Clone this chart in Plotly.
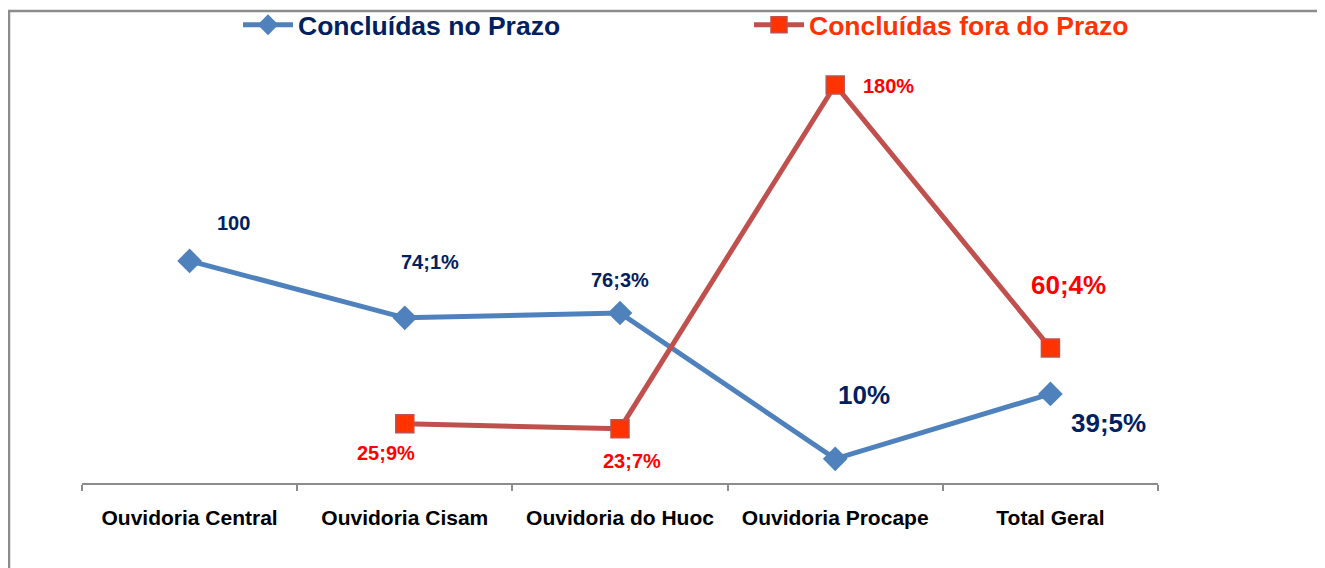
import plotly.graph_objects as go

categories = ["Ouvidoria Central", "Ouvidoria Cisam", "Ouvidoria do Huoc", "Ouvidoria Procape", "Total Geral"]
no_prazo = [100, 74.1, 76.3, 10, 39.5]
fora_prazo = [None, 25.9, 23.7, 180, 60.4]
no_prazo_labels = ["100", "74;1%", "76;3%", "10%", "39;5%"]
fora_prazo_labels = ["", "25;9%", "23;7%", "180%", "60;4%"]

BLUE_LINE = "#4F81BD"
NAVY = "#002060"
RED_LINE = "#C0504D"
RED_MARK = "#FF3300"
RED_TXT = "#FF0000"
FONT = "Liberation Sans, Arial, sans-serif"

fig = go.Figure()
fig.add_trace(go.Scatter(
    x=categories, y=no_prazo, mode="lines+markers",
    name=f"<b><span style='color:{NAVY}'>Concluídas no Prazo</span></b>",
    line=dict(color=BLUE_LINE, width=5),
    marker=dict(symbol="diamond", size=19, color=BLUE_LINE),
))
fig.add_trace(go.Scatter(
    x=categories, y=fora_prazo, mode="lines+markers",
    name=f"<b><span style='color:{RED_MARK}'>Concluídas fora do Prazo</span></b>",
    line=dict(color=RED_LINE, width=5),
    marker=dict(symbol="square", size=18, color=RED_MARK, line=dict(color=RED_LINE, width=1.5)),
))

# label offsets (pixels) and sizes
blue_off = [(44, 38, 20), (25, 56, 20), (0, 33, 20), (29, 64, 26), (58, -29, 26)]
red_off = [(0, 0, 20), (-19, -29, 20), (12, -32, 20), (53, -1, 20), (18, 63, 26)]

for c, v, t, (dx, dy, s) in zip(categories, no_prazo, no_prazo_labels, blue_off):
    fig.add_annotation(x=c, y=v, text=f"<b>{t}</b>", showarrow=False, xshift=dx, yshift=dy,
                       font=dict(color=NAVY, size=s, family=FONT))
for c, v, t, (dx, dy, s) in zip(categories, fora_prazo, fora_prazo_labels, red_off):
    if v is None:
        continue
    fig.add_annotation(x=c, y=v, text=f"<b>{t}</b>", showarrow=False, xshift=dx, yshift=dy,
                       font=dict(color=RED_TXT, size=s, family=FONT))

OFF = 8  # page body margin
W, H = 1325 - OFF, 568 - OFF
L, R, T, B = 82 - OFF, 167, 41 - OFF, 85
pw, ph = W - L - R, H - T - B

def px(xs):
    return (xs - OFF - L) / pw

def py(ys):
    return (H - B - (ys - OFF)) / ph

fig.add_shape(type="rect", xref="paper", yref="paper",
              x0=px(9), x1=px(1319), y0=py(600), y1=py(11),
              line=dict(color="#8C8C8C", width=2.5), fillcolor="rgba(0,0,0,0)", layer="below")

fig.update_layout(
    width=W, height=H,
    margin=dict(l=L, r=R, t=T, b=B, autoexpand=False),
    paper_bgcolor="white", plot_bgcolor="white",
    font=dict(family=FONT),
    showlegend=True,
    legend=dict(orientation="h", x=px(238), y=py(25), xanchor="left", yanchor="middle",
                font=dict(size=26.5, family=FONT), entrywidth=446, entrywidthmode="pixels",
                itemwidth=50, bgcolor="rgba(0,0,0,0)"),
    xaxis=dict(showgrid=False, showline=True, linecolor="#8C8C8C", linewidth=2,
               range=[-0.5, 4.5],
               ticks="outside", tickson="boundaries", ticklen=6, tickcolor="#8C8C8C", tickwidth=2,
               tickfont=dict(size=21, color="black", family=FONT),
               ticklabelstandoff=15,
               tickvals=categories, ticktext=[f"<b>{c}</b>" for c in categories]),
    yaxis=dict(range=[-1, 200], visible=False),
    hovermode=False,
)

fig.write_html("out.html")
